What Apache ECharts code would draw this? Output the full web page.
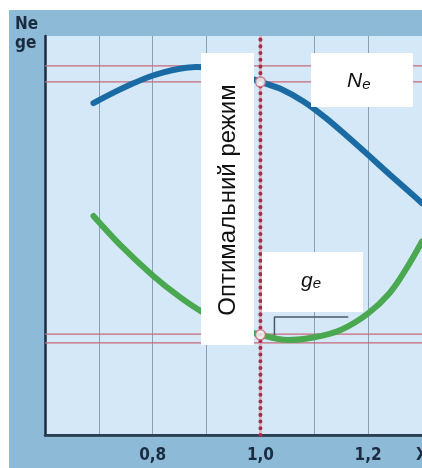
<!DOCTYPE html>
<html>
<head>
<meta charset="utf-8">
<script src="https://cdn.jsdelivr.net/npm/echarts@6/dist/echarts.min.js"></script>
<style>
  html, body { margin: 0; padding: 0; background: #fff; }
  #main { width: 422px; height: 468px; }
</style>
</head>
<body>
<div id="main"></div>
<script>
// крива Ne
const neX = [0.69, 0.73, 0.76, 0.79, 0.82, 0.85, 0.88, 0.92, 0.95, 1.0, 1.04, 1.08, 1.12, 1.16, 1.2, 1.24, 1.28, 1.3];
const neY = [83.2, 86.0, 87.9, 89.6, 90.9, 91.8, 92.2, 92.0, 90.9, 88.5, 86.6, 83.6, 79.6, 75.0, 70.2, 65.3, 60.5, 58.1];
// крива ge
const geX = [0.69, 0.74, 0.8, 0.85, 0.89, 0.94, 1.0, 1.05, 1.1, 1.15, 1.2, 1.24, 1.27, 1.3];
const geY = [54.9, 47.6, 40.0, 34.6, 31.0, 27.6, 25.1, 23.8, 24.5, 26.4, 30.5, 35.6, 41.5, 48.5];
// рівні (червоні лінії)
const levels = [92.5, 88.5, 25.3, 23.1];
// оптимальний режим
const optX = 1.0;
const optPoints = [88.5, 25.1];
// кутова позначка біля ge
const bracket = [[1.026, 23.8], [1.026, 29.6], [1.163, 29.6]];
const tickLabels = { '0.8': '0,8', '1': '1,0', '1.2': '1,2', '1.3': 'X' };

const xMin = 0.6, xMax = 1.3;
const dark = '#1c2c40';

let chart = echarts.init(document.getElementById('main'));

let series = [];
levels.forEach(function (v) {
  series.push({
    type: 'line', silent: true, symbol: 'none', z: 3,
    data: [[xMin, v], [xMax, v]],
    lineStyle: { color: '#c8687c', width: 1.2 }
  });
});
series.push({
  name: 'Ne', type: 'line', smooth: 0.35, showSymbol: false, z: 5,
  data: neX.map((x, i) => [x, neY[i]]),
  lineStyle: { color: '#1a6aa3', width: 6, cap: 'round' }
});
series.push({
  name: 'ge', type: 'line', smooth: 0.35, showSymbol: false, z: 5,
  data: geX.map((x, i) => [x, geY[i]]),
  lineStyle: { color: '#4aa850', width: 6, cap: 'round' }
});
series.push({
  type: 'line', symbol: 'none', z: 4,
  data: bracket,
  lineStyle: { color: '#4a5868', width: 1.5 }
});
// пунктир 1,0
series.push({
  type: 'line', symbol: 'none', z: 6,
  data: [[optX, 0], [optX, 100]],
  lineStyle: { color: '#eab0bf', width: 3 }
});
series.push({
  type: 'line', symbol: 'none', z: 7,
  data: [[optX, 0], [optX, 100]],
  lineStyle: { color: '#a82c4c', width: 4, type: [0.1, 6.6], cap: 'round' }
});
series.push({
  type: 'scatter', z: 8, symbolSize: 10,
  data: optPoints.map(v => [optX, v]),
  itemStyle: { color: '#fff', borderColor: '#c86478', borderWidth: 1.5 }
});

let option = {
  backgroundColor: '#fff',
  animation: false,
  grid: {
    left: 45, right: 0, top: 36, bottom: 33,
    outerBoundsMode: 'none', containLabel: false,
    show: true, backgroundColor: '#d4e8f7', borderWidth: 0
  },
  xAxis: [{
    type: 'value', min: xMin, max: xMax, interval: 0.1,
    axisLine: { show: true, onZero: false, lineStyle: { color: dark, width: 2.5 } },
    axisTick: { show: false },
    splitLine: { show: true, lineStyle: { color: '#8aa0b4', width: 1 } },
    axisLabel: {
      margin: 12, showMinLabel: true, showMaxLabel: true,
      color: dark, fontSize: 17, fontWeight: 'bold',
      fontFamily: 'DejaVu Sans Condensed, DejaVu Sans',
      formatter: function (v) {
        let k = String(Math.round(v * 10) / 10);
        return tickLabels[k] || '';
      }
    }
  }, {
    type: 'value', position: 'top', min: xMin, max: xMax,
    axisLine: { show: true, lineStyle: { color: '#2c3e52', width: 2 } },
    axisTick: { show: false }, axisLabel: { show: false }, splitLine: { show: false }
  }],
  yAxis: {
    type: 'value', min: 0, max: 100,
    axisLine: { show: true, onZero: false, lineStyle: { color: dark, width: 2.5 } },
    axisTick: { show: false }, axisLabel: { show: false }, splitLine: { show: false }
  },
  graphic: [
    { type: 'rect', z: -10, silent: true, shape: { x: 9, y: 10, width: 420, height: 470 }, style: { fill: '#8dbad6' } },
    {
      type: 'text', z: 100, left: 15, top: 15,
      style: { text: 'Ne\nge', fill: dark, font: 'bold 17px "DejaVu Sans Condensed", "DejaVu Sans"', lineHeight: 19 }
    },
    { type: 'rect', z: 100, shape: { x: 201, y: 53, width: 53, height: 292 }, style: { fill: '#fff' } },
    {
      type: 'text', z: 101, x: 228, y: 200, rotation: Math.PI / 2,
      style: { text: 'Оптимальний режим', fill: '#111', font: '24px "Liberation Sans", Arial', align: 'center', verticalAlign: 'middle' }
    },
    { type: 'rect', z: 100, shape: { x: 311, y: 53, width: 102, height: 54 }, style: { fill: '#fff' } },
    {
      type: 'text', z: 101, x: 347, y: 81,
      style: {
        text: '{n|N}{s|e}', verticalAlign: 'middle',
        rich: {
          n: { fontSize: 21, fontStyle: 'italic', fill: '#111', fontFamily: 'Liberation Sans' },
          s: { fontSize: 15, fontStyle: 'italic', fill: '#111', fontFamily: 'Liberation Sans', padding: [8, 0, 0, 0] }
        }
      }
    },
    { type: 'rect', z: 100, shape: { x: 262, y: 252, width: 101, height: 60 }, style: { fill: '#fff' } },
    {
      type: 'text', z: 101, x: 301, y: 281,
      style: {
        text: '{n|g}{s|e}', verticalAlign: 'middle',
        rich: {
          n: { fontSize: 21, fontStyle: 'italic', fill: '#111', fontFamily: 'Liberation Sans' },
          s: { fontSize: 15, fontStyle: 'italic', fill: '#111', fontFamily: 'Liberation Sans', padding: [6, 0, 0, 0] }
        }
      }
    }
  ],
  series: series
};
chart.setOption(option);
</script>
</body>
</html>
